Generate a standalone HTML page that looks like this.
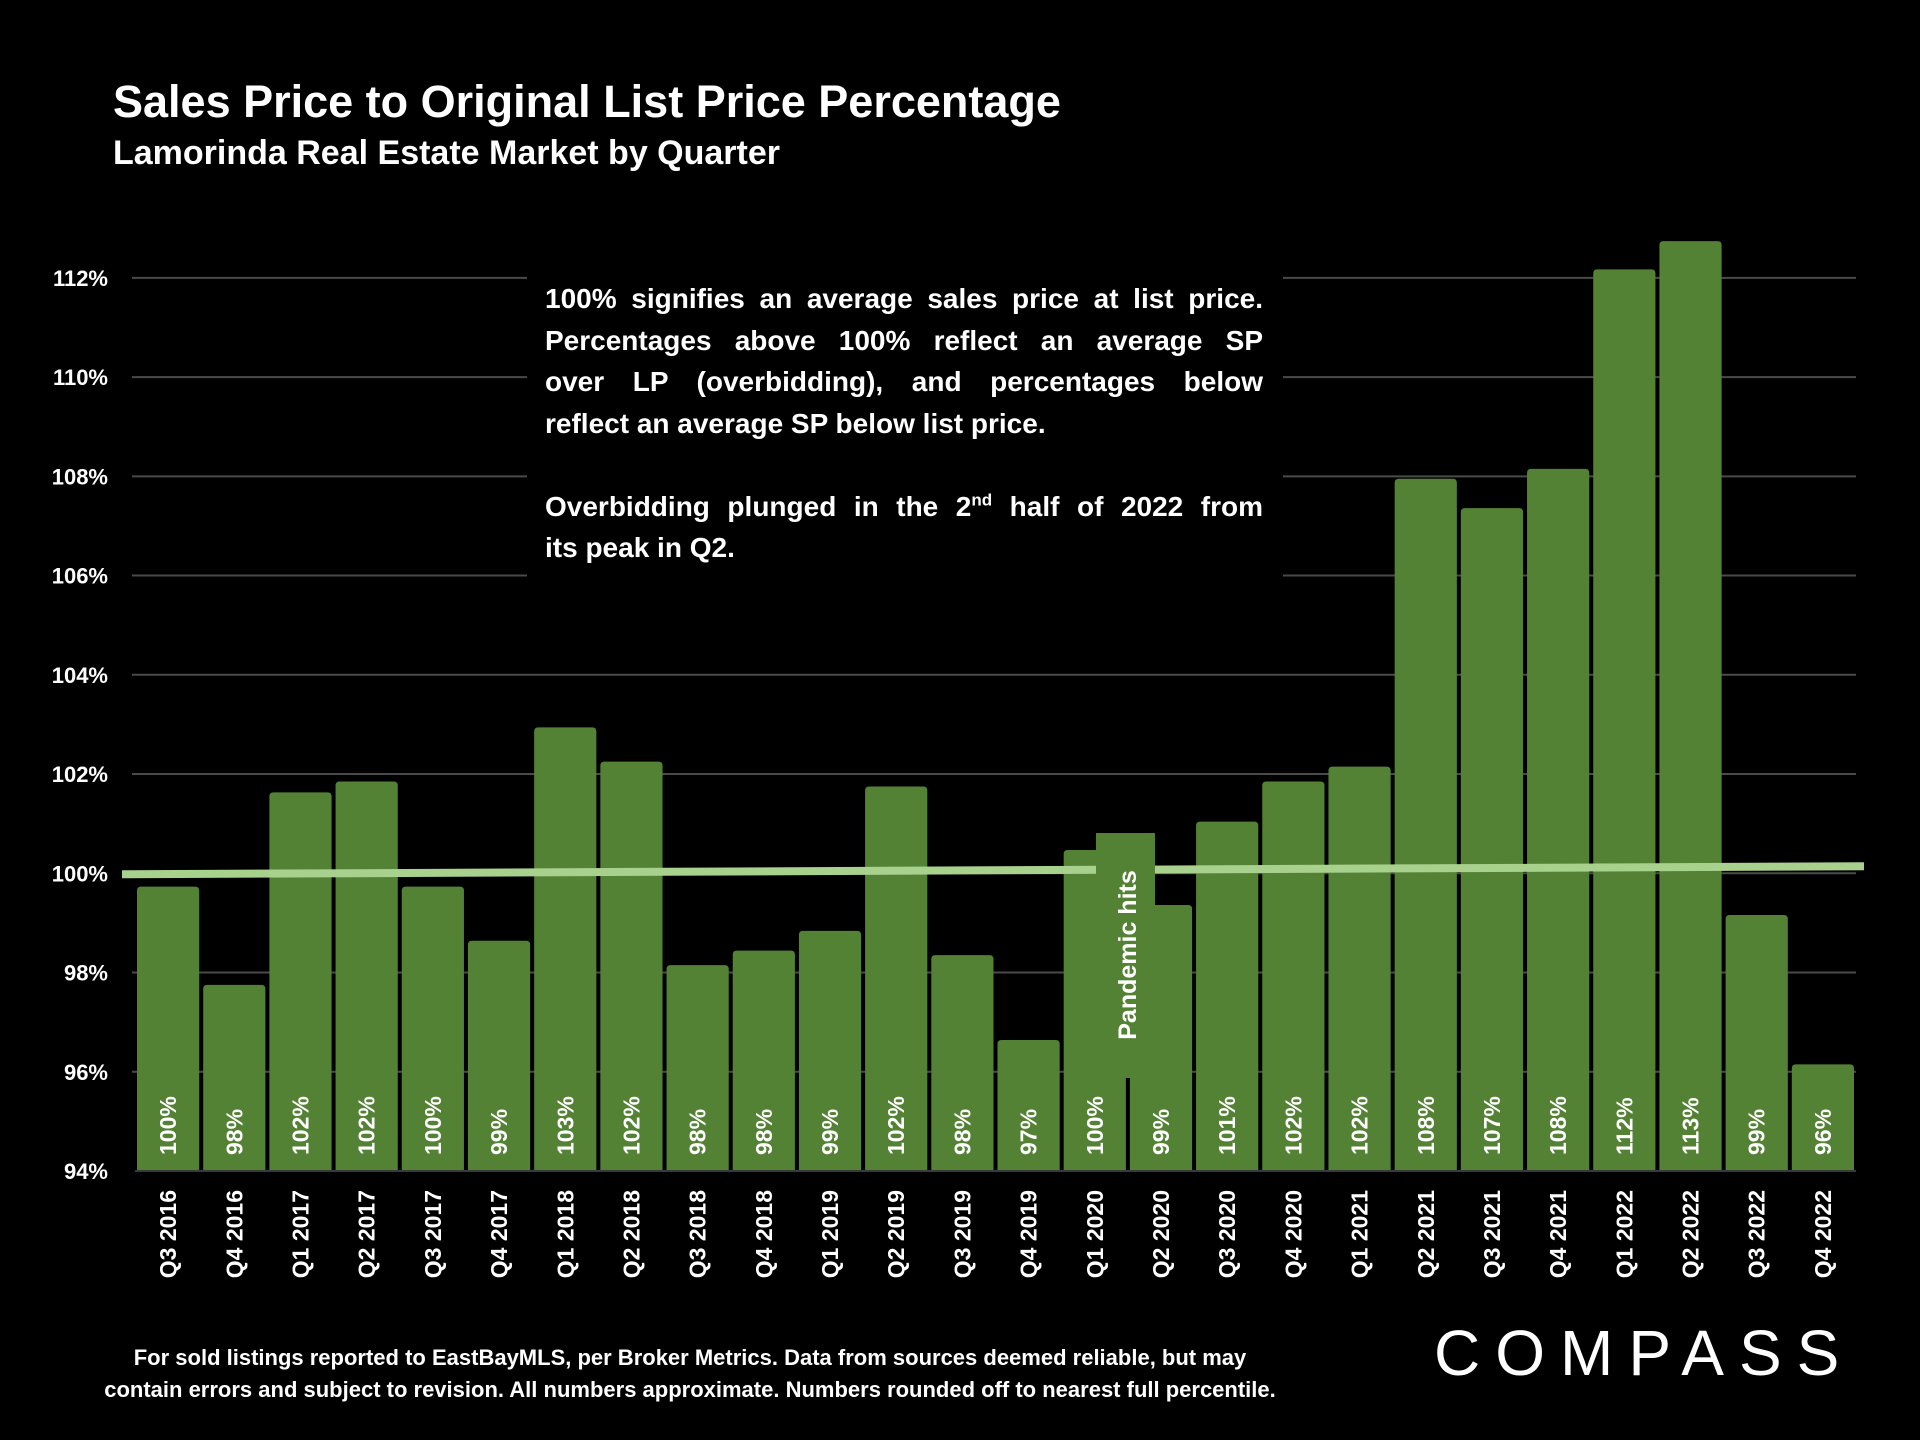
<!DOCTYPE html>
<html><head><meta charset="utf-8"><style>
html,body{margin:0;padding:0;background:#000;}
#wrap{position:relative;width:1920px;height:1440px;overflow:hidden;background:#000;font-family:"Liberation Sans",sans-serif;color:#fff;}
.t{position:absolute;font-weight:bold;white-space:nowrap;}
#note{position:absolute;left:545px;top:278px;width:718px;font-weight:bold;font-size:28px;line-height:41.5px;}
#note .ln{display:block;text-align:justify;text-align-last:justify;white-space:nowrap;height:41.5px;}
#note .last{text-align-last:left;}
</style></head><body>
<div id="wrap">
<div class="t" style="left:113px;top:76px;font-size:45px;">Sales Price to Original List Price Percentage</div>
<div class="t" style="left:113px;top:134px;font-size:34px;">Lamorinda Real Estate Market by Quarter</div>
<svg id="chart" width="1920" height="1440" style="position:absolute;left:0;top:0;"></svg>
<div id="note">
<span class="ln" style="white-space:normal">100% signifies an average sales price at list price.</span>
<span class="ln" style="white-space:normal">Percentages above 100% reflect an average SP</span>
<span class="ln" style="white-space:normal">over LP (overbidding), and percentages below</span>
<span class="ln last">reflect an average SP below list price.</span>
<span class="ln last"></span>
<span class="ln" style="white-space:normal">Overbidding plunged in the 2<sup style="font-size:17px;line-height:0">nd</sup> half of 2022 from</span>
<span class="ln last">its peak in Q2.</span>
</div>
<div class="t" style="left:40px;top:1342px;width:1300px;text-align:center;font-size:22px;line-height:32px;">For sold listings reported to EastBayMLS, per Broker Metrics. Data from sources deemed reliable, but may<br>contain errors and subject to revision. All numbers approximate. Numbers rounded off to nearest full percentile.</div>
<div style="position:absolute;left:1434px;top:1316px;font-size:64px;letter-spacing:15px;color:#fff;">COMPASS</div>
</div>
<script>
const categories=["Q3 2016","Q4 2016","Q1 2017","Q2 2017","Q3 2017","Q4 2017","Q1 2018","Q2 2018","Q3 2018","Q4 2018","Q1 2019","Q2 2019","Q3 2019","Q4 2019","Q1 2020","Q2 2020","Q3 2020","Q4 2020","Q1 2021","Q2 2021","Q3 2021","Q4 2021","Q1 2022","Q2 2022","Q3 2022","Q4 2022"];
const values=[99.73,97.75,101.63,101.85,99.73,98.64,102.94,102.25,98.15,98.44,98.84,101.75,98.35,96.64,100.47,99.36,101.04,101.85,102.15,107.95,107.36,108.15,112.17,112.74,99.16,96.15];
const valueLabels=["100%","98%","102%","102%","100%","99%","103%","102%","98%","98%","99%","102%","98%","97%","100%","99%","101%","102%","102%","108%","107%","108%","112%","113%","99%","96%"];
const yTicks=[94,96,98,100,102,104,106,108,110,112];
const yTickLabels=["94%","96%","98%","100%","102%","104%","106%","108%","110%","112%"];
const refValue=100;

const NS="http://www.w3.org/2000/svg";
const svg=document.getElementById('chart');
const X0=135,X1=1856,Y0=1171,YMIN=94,YPER=49.62;
const slot=(X1-X0)/categories.length;
function y(v){return Y0-(v-YMIN)*YPER;}
function xs(i){return X0+i*slot;}
function mk(tag,attrs){const e=document.createElementNS(NS,tag);for(const k in attrs)e.setAttribute(k,attrs[k]);svg.appendChild(e);return e;}

yTicks.forEach((t,i)=>{
  if(t>YMIN){
    const g=mk('line',{x1:X0-3,x2:X1,y1:y(t),y2:y(t),stroke:'#4a4a4a','stroke-width':2});
    
    
  }
  const l=mk('text',{x:108,y:y(t)+8,'text-anchor':'end',fill:'#fff','font-size':22,'font-weight':'bold','font-family':'Liberation Sans, sans-serif'});
  l.textContent=yTickLabels[i];
  
  
});
const m=mk('rect',{x:527,y:268,width:756,height:310,fill:'#000'});



values.forEach((v,i)=>{
  const bx=xs(i)+2,bw=slot-4,top=y(v);
  const b=mk('path',{d:`M${bx},${Y0} V${top+4} Q${bx},${top} ${bx+4},${top} H${bx+bw-4} Q${bx+bw},${top} ${bx+bw},${top+4} V${Y0} Z`,fill:'#548235'});
  
  
  const cx=xs(i)+slot/2;
  const vl=mk('text',{x:0,y:0,transform:`translate(${cx+8},1155) rotate(-90)`,fill:'#fff','font-size':23,'font-weight':'bold','font-family':'Liberation Sans, sans-serif'});
  vl.textContent=valueLabels[i];
  
  
  const cl=mk('text',{x:0,y:0,transform:`translate(${cx+8},1190) rotate(-90)`,'text-anchor':'end',fill:'#fff','font-size':23,'font-weight':'bold','font-family':'Liberation Sans, sans-serif'});
  cl.textContent=categories[i];
  
  
});
const axis=mk('line',{x1:X0,x2:X1,y1:Y0,y2:Y0,stroke:'#3a3a3a','stroke-width':2});


const ref=mk('line',{x1:122,x2:1864,y1:y(refValue)+1,y2:y(refValue)-7,stroke:'#a9d18e','stroke-width':8});


const pb=mk('rect',{x:1096,y:833,width:59,height:245,fill:'#548235'});


const pt=mk('text',{x:0,y:0,transform:'translate(1136,955) rotate(-90)','text-anchor':'middle',fill:'#fff','font-size':25,'font-weight':'bold','font-family':'Liberation Sans, sans-serif'});
pt.textContent='Pandemic hits';


</script>
</body></html>
